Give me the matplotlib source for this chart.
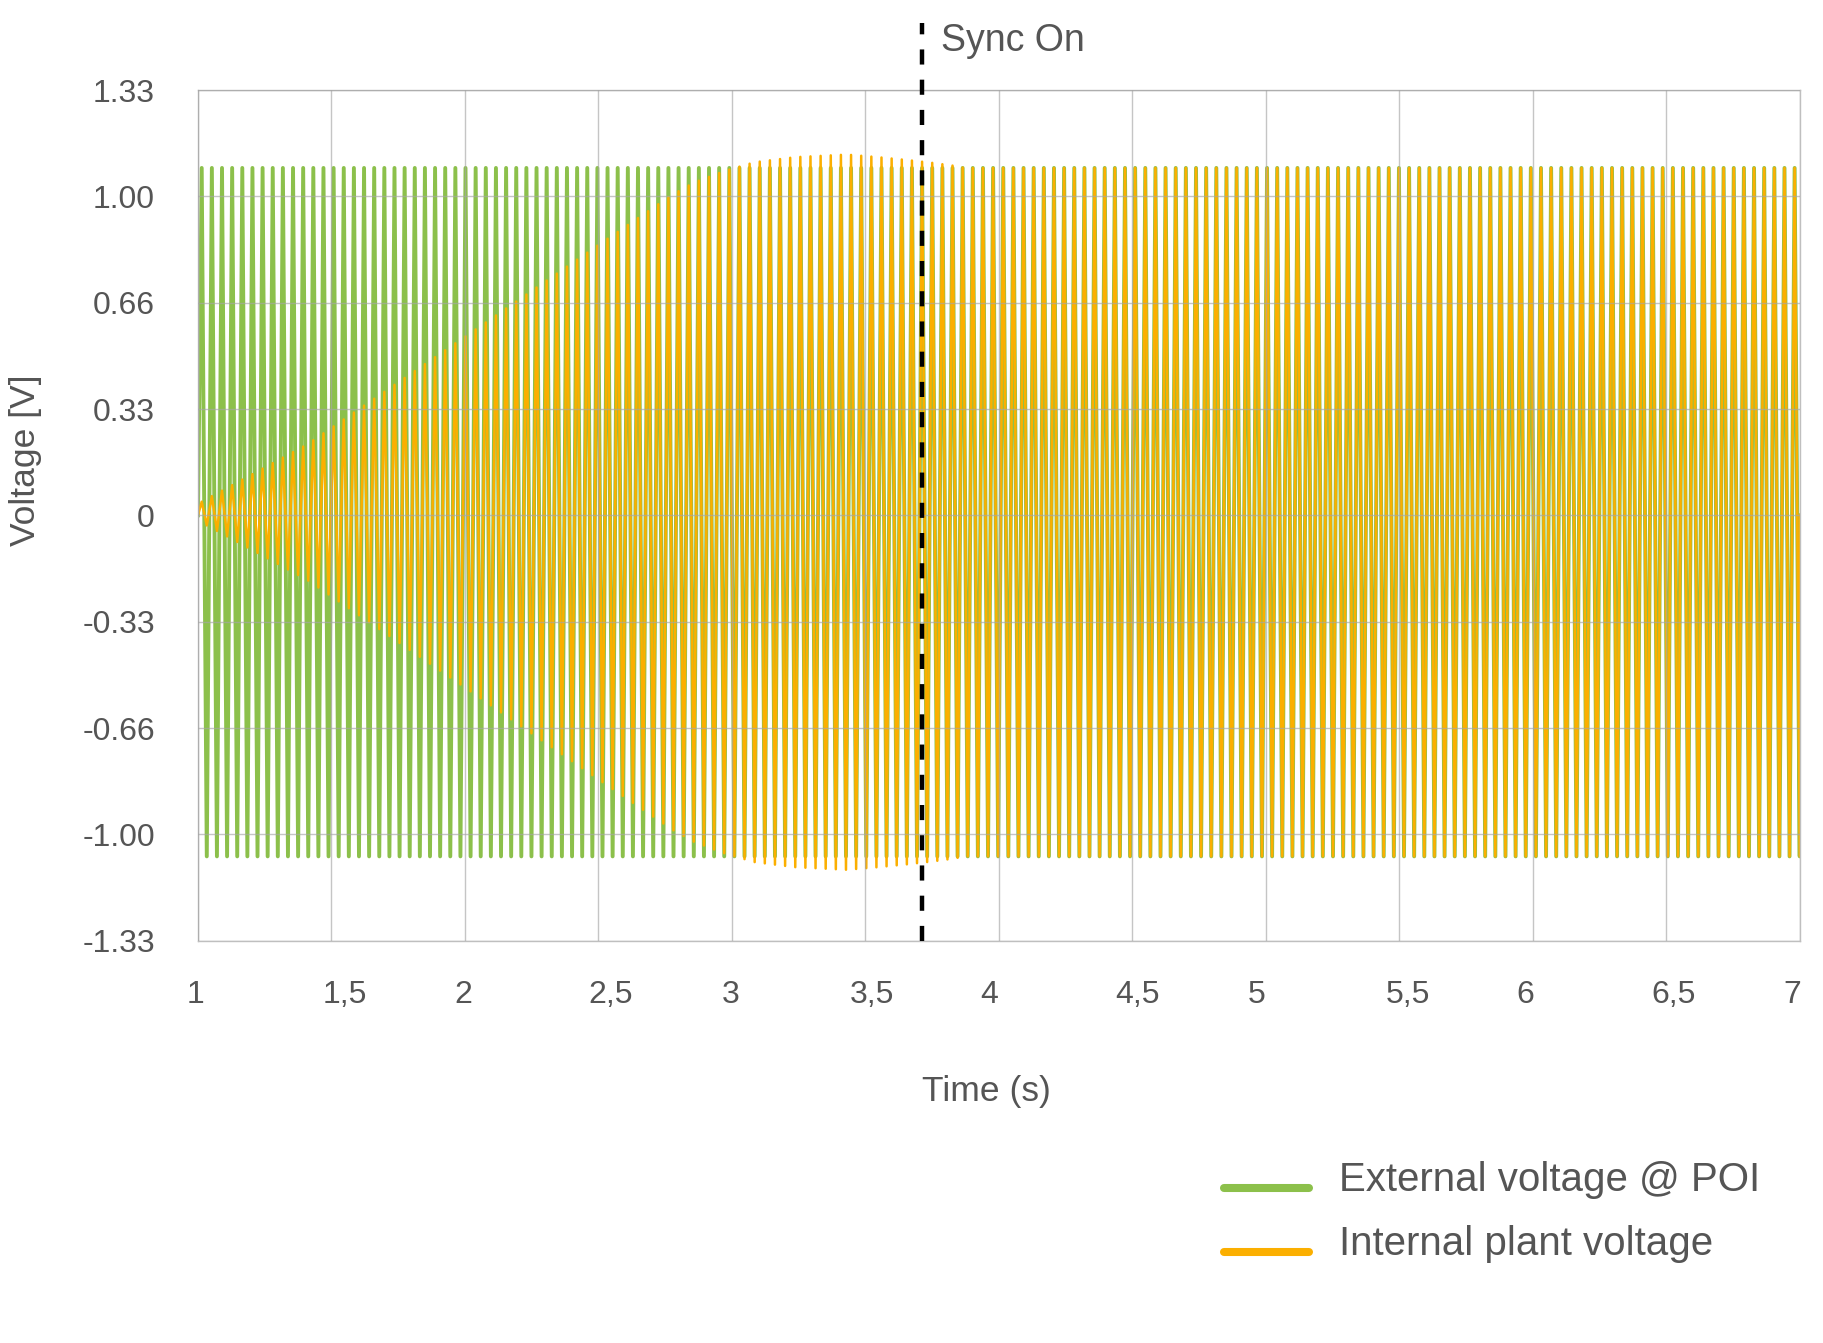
import numpy as np
import matplotlib
matplotlib.use('Agg')
import matplotlib.pyplot as plt
from matplotlib.lines import Line2D
from matplotlib.transforms import ScaledTranslation, blended_transform_factory

plt.rcParams['font.family'] = ['Liberation Sans', 'DejaVu Sans']

# --- data ---
x_ticks = [1, 1.5, 2, 2.5, 3, 3.5, 4, 4.5, 5, 5.5, 6, 6.5, 7]
x_tick_labels = ['1', '1,5', '2', '2,5', '3', '3,5', '4', '4,5', '5', '5,5', '6', '6,5', '7']
y_ticks = [4/3, 1, 2/3, 1/3, 0, -1/3, -2/3, -1, -4/3]
y_tick_labels = ['1.33', '1.00', '0.66', '0.33', '0', '-0.33', '-0.66', '-1.00', '-1.33']

series_names = ['External voltage @ POI', 'Internal plant voltage']

t_start, t_end = 1.0, 7.0
first_peak = 1.0139      # first positive vertex of both waveforms
half_period = 0.019      # peak -> trough spacing as drawn
dc_offset = 0.01
ext_amp = 1.079          # external voltage amplitude (constant)

# internal plant voltage envelope: time (s) / amplitude
int_env_t = [1.0, 1.014, 1.41, 2.0, 2.516, 2.778, 2.857, 2.97, 3.085, 3.238,
             3.43, 3.545, 3.655, 3.75, 3.83, 3.87, 7.0]
int_env_v = [0.0, 0.033, 0.213, 0.55, 0.847, 0.996, 1.033, 1.069, 1.097, 1.113,
             1.121, 1.113, 1.104, 1.095, 1.086, 1.079, 1.079]

sync_t = 3.712
sync_top = 1.543

# --- build the zig-zag traces ---
tv = np.arange(first_peak, t_end, half_period)
sign = np.where(np.arange(len(tv)) % 2 == 0, 1.0, -1.0)
t = np.concatenate([[t_start], tv, [t_end]])
ext = np.concatenate([[0.0], dc_offset + sign * ext_amp, [0.0]])
env = np.interp(tv, int_env_t, int_env_v)
internal = np.concatenate([[0.0], dc_offset + sign * env, [0.0]])

GREEN = '#8CC04B'
ORANGE = '#FBAF00'
TXT = '#555555'

W, H = 1824, 1343
fig = plt.figure(figsize=(W / 100, H / 100), dpi=100)
ax = fig.add_axes([198 / W, 1 - 940.7 / H, (1800 - 198) / W, (940.7 - 90) / H])

# green drawn a bit wider so it shows along the orange strokes
ax.plot(t, ext, color=GREEN, lw=2.8, solid_joinstyle='round', zorder=1.5)
ax.plot(t, internal, color=ORANGE, lw=1.8, solid_joinstyle='round', zorder=1.6)

ax.set_xlim(t_start, t_end)
ax.set_ylim(-4/3, 4/3)

ax.set_axisbelow(False)
ax.grid(True, color='#a6a6a6', alpha=0.65, lw=1.0)
for s in ax.spines.values():
    s.set_color('#bfbfbf')
    s.set_linewidth(1.0)

ax.set_xticks(x_ticks)
ax.set_xticklabels([])
ax.set_yticks(y_ticks)
ax.set_yticklabels(y_tick_labels)
ax.tick_params(length=0)
ax.tick_params(axis='y', pad=31, labelsize=23, labelcolor=TXT)

# x tick labels sit a little off the gridlines in the original
label_dx = [-2, 13, -2, 12, -1, 6, -10, 5, -9, 8, -8, 7, -8]
trans = blended_transform_factory(ax.transData, ax.transAxes)
for xt, lab, dx in zip(x_ticks, x_tick_labels, label_dx):
    off = ScaledTranslation(dx / 100, -(1003 - 940.7) / 100, fig.dpi_scale_trans)
    ax.text(xt, 0, lab, transform=trans + off, ha='center', va='baseline',
            fontsize=23, color=TXT, clip_on=False)

# sync marker
ax.plot([sync_t, sync_t], [-4/3, sync_top], color='black', lw=3.2,
        linestyle=(0, (3.4, 3.4)), clip_on=False, zorder=4)
fig.text(941 / W, 1 - 51 / H, 'Sync On', fontsize=27, color=TXT, va='baseline')

# axis titles
fig.text(986 / W, 1 - 1092 / H, 'Time (s)', fontsize=25.5, color=TXT, ha='center', va='center')
fig.text(26 / W, 1 - 460 / H, 'Voltage [V]', fontsize=25.5, color=TXT, ha='center', va='center',
         rotation=90)

# legend drawn by hand to keep the original placement
for name, col, y_line, y_base in zip(series_names, [GREEN, ORANGE], [1188, 1252], [1191, 1255]):
    fig.add_artist(Line2D([1224 / W, 1309 / W], [1 - y_line / H] * 2, lw=5.8, color=col,
                          solid_capstyle='round'))
    fig.text(1339 / W, 1 - y_base / H, name, fontsize=29, color=TXT, va='baseline')

fig.savefig('out.png', dpi=100)
